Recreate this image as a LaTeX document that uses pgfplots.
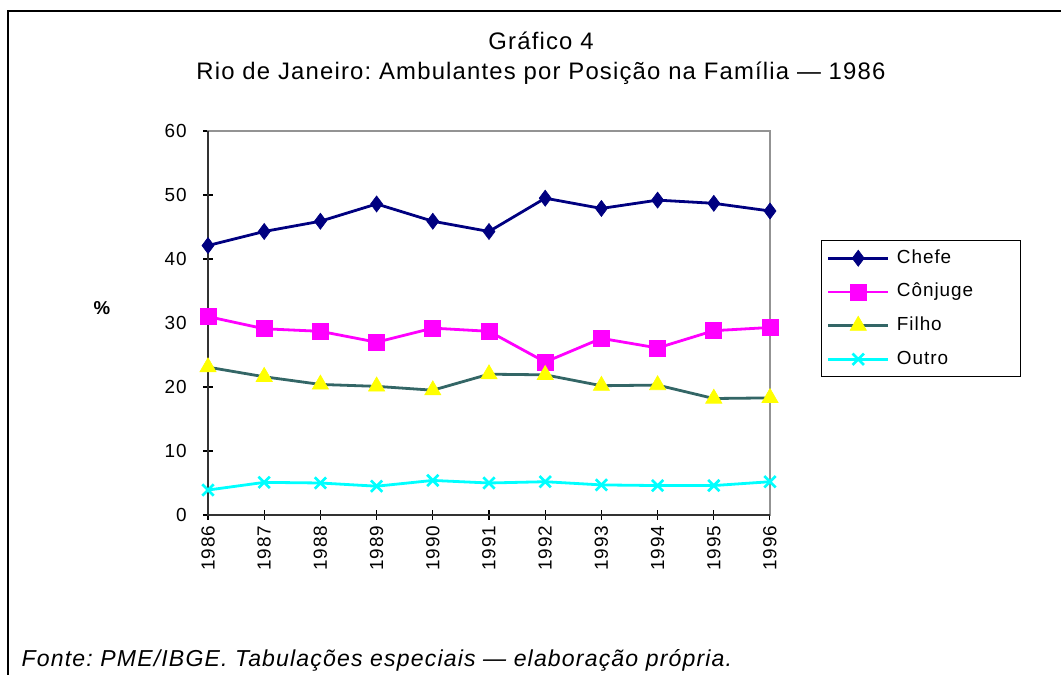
\documentclass[border=0pt]{standalone}
\usepackage{fontspec}
\setmainfont{Liberation Sans}[LetterSpace=5]
\usepackage{pgfplots}
\pgfplotsset{compat=1.18}
\definecolor{chefe}{RGB}{0,0,128}
\definecolor{conj}{RGB}{255,0,255}
\definecolor{filho}{RGB}{51,102,102}
\definecolor{tri}{RGB}{255,255,0}
\definecolor{outro}{RGB}{0,255,255}
\frenchspacing
\newcommand{\lent}[1]{\makebox[92pt][l]{\hspace{4.5pt}#1}}
\begin{document}
\begin{tikzpicture}[x=0.75pt,y=0.75pt]
\useasboundingbox (0,0) rectangle (1061,675);
\begin{scope}
\clip (0,0) rectangle (1061,675);
\draw[line width=1.5pt,black] (7.5,-20) -- (7.5,664) -- (1080,664);
\end{scope}
\node[font=\fontsize{17.9}{20}\selectfont] at (541,634) {Gráfico 4};
\node[font=\fontsize{17.9}{20}\selectfont] at (541,602) {Rio de Janeiro: Ambulantes por Posição na Família — 1986};
\node[font=\bfseries\fontsize{14}{16}\selectfont] at (102,367) {\%};
\node[font=\itshape\fontsize{17.3}{19}\selectfont,anchor=west] at (17,15) {Fonte: PME/IBGE. Tabulações especiais — elaboração própria.};
\begin{axis}[
  at={(156pt,120pt)}, anchor=south west,
  scale only axis, width=421.5pt, height=288pt,
  xmin=1986, xmax=1996, ymin=0, ymax=60,
  xtick={1986,...,1996}, ytick={0,10,...,60},
  xtick pos=left, ytick pos=left,
  tick align=center, major tick length=7pt,
  major tick style={black, line width=0.8pt},
  axis line style={gray!85, line width=1.5pt},
  /pgf/number format/assume math mode=true,
  /pgf/number format/set thousands separator={},
  tick label style={font=\fontsize{14.2}{16}\selectfont},
  xticklabel style={rotate=90, anchor=east},
  xticklabel shift=1pt,
  yticklabel shift=9pt,
  clip=false,
  legend style={at={(1.0907,0.716)}, anchor=north west, draw=black, line width=0.8pt,
    font=\fontsize{14.2}{16}\selectfont, row sep=9.75pt, inner xsep=4pt, inner ysep=5.5pt,
    nodes={inner sep=1pt, text height=10.5pt, text depth=3pt},
    cells={anchor=west}},
  legend image code/.code={\draw[mark repeat=2,mark phase=2] plot coordinates {(0pt,0pt) (22.5pt,0pt) (45pt,0pt)};},
  every axis plot/.append style={line width=2.1pt},
]
\addplot[chefe, mark=diamond*, mark size=6pt, mark options={fill=chefe, draw=chefe, line width=0.5pt}] coordinates {
(1986,42.1)(1987,44.3)(1988,45.9)(1989,48.6)(1990,45.9)(1991,44.3)(1992,49.5)(1993,47.9)(1994,49.2)(1995,48.7)(1996,47.5)};
\addlegendentry{\lent{Chefe}}
\addplot[conj, mark=square*, mark size=6pt, mark options={fill=conj, draw=conj, line width=0.5pt}] coordinates {
(1986,31.0)(1987,29.1)(1988,28.7)(1989,27.0)(1990,29.2)(1991,28.7)(1992,23.9)(1993,27.6)(1994,26.1)(1995,28.8)(1996,29.3)};
\addlegendentry{\lent{Cônjuge}}
\addplot[filho, mark=triangle*, mark size=7pt, mark options={fill=tri, draw=tri, line width=0.5pt}] coordinates {
(1986,23.1)(1987,21.6)(1988,20.4)(1989,20.1)(1990,19.5)(1991,22.0)(1992,21.9)(1993,20.2)(1994,20.3)(1995,18.2)(1996,18.3)};
\addlegendentry{\lent{Filho}}
\addplot[outro, mark=x, mark size=6pt, mark options={draw=outro, line width=2pt}] coordinates {
(1986,3.9)(1987,5.1)(1988,5.0)(1989,4.5)(1990,5.4)(1991,5.0)(1992,5.2)(1993,4.7)(1994,4.6)(1995,4.6)(1996,5.2)};
\addlegendentry{\lent{Outro}}
\draw[black!80, line width=1.5pt] (rel axis cs:0,1) -- (rel axis cs:0,0) -- (rel axis cs:1,0);
\end{axis}
\end{tikzpicture}
\end{document}
